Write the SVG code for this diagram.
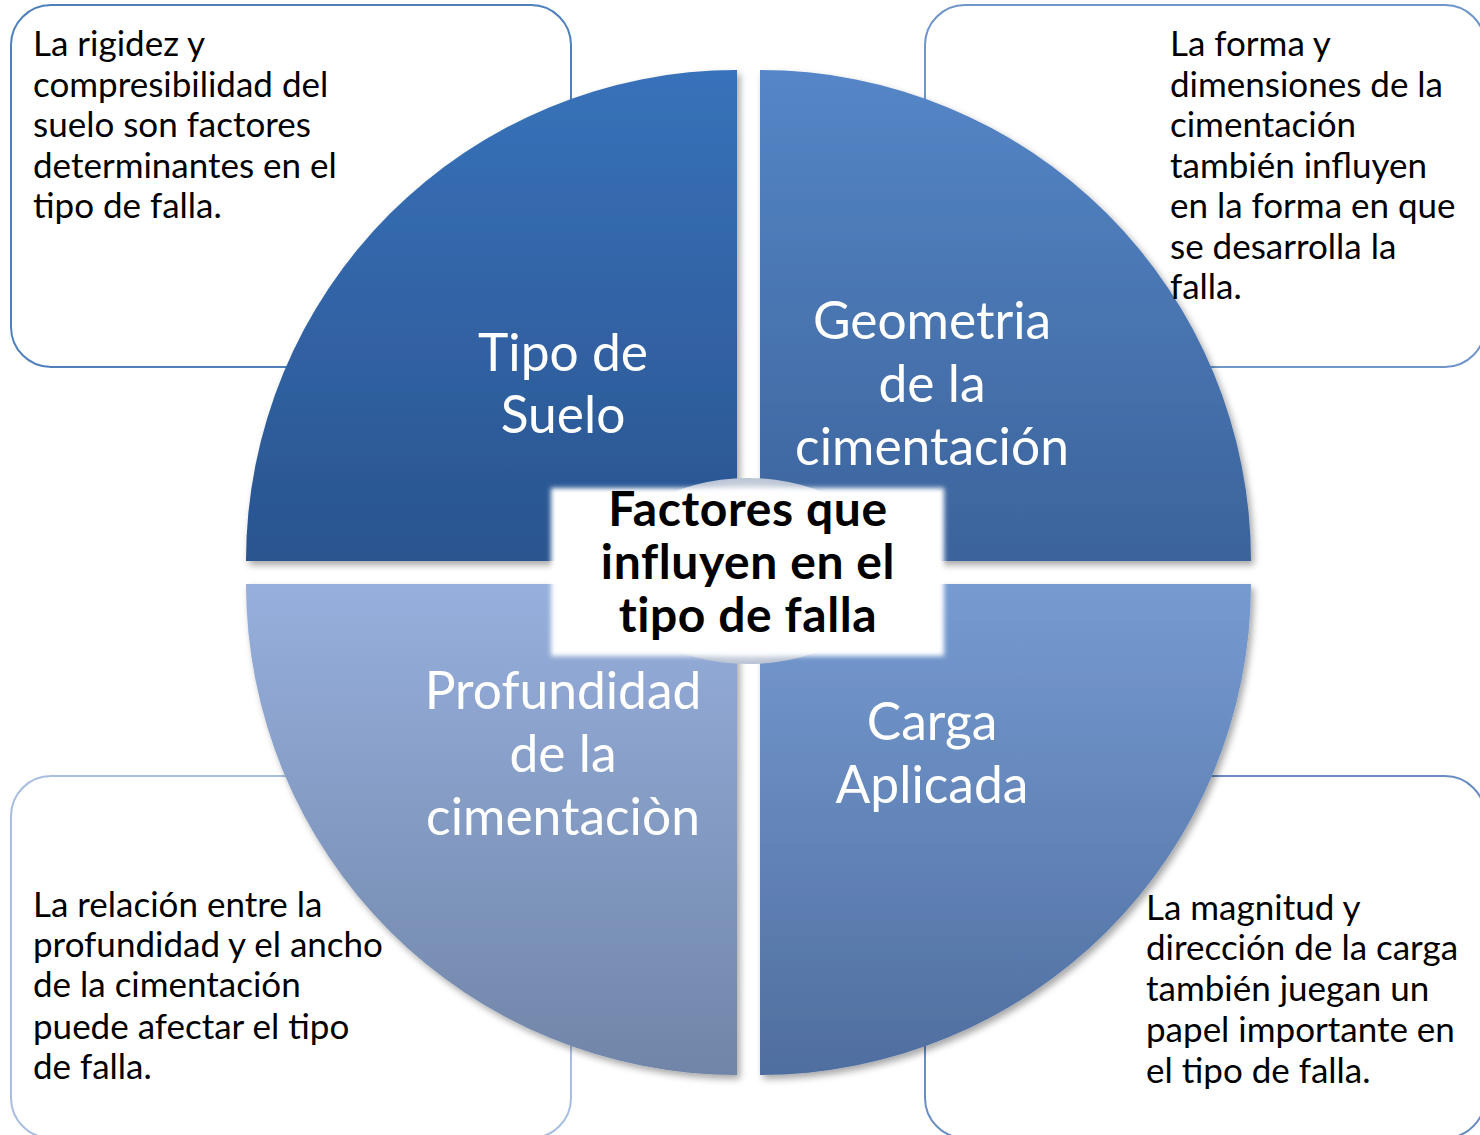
<svg xmlns="http://www.w3.org/2000/svg" width="1480" height="1135" viewBox="0 0 1480 1135">
<defs>
<linearGradient id="gTL" x1="0" y1="0" x2="0" y2="1"><stop offset="0" stop-color="#3872BA"/><stop offset="1" stop-color="#2A548F"/></linearGradient>
<linearGradient id="gTR" x1="0" y1="0" x2="0" y2="1"><stop offset="0" stop-color="#5586C7"/><stop offset="1" stop-color="#3C639B"/></linearGradient>
<linearGradient id="gBL" x1="0" y1="0" x2="0" y2="1"><stop offset="0" stop-color="#96AFDC"/><stop offset="1" stop-color="#7085A8"/></linearGradient>
<linearGradient id="gBR" x1="0" y1="0" x2="0" y2="1"><stop offset="0" stop-color="#769BD1"/><stop offset="1" stop-color="#4F6E9F"/></linearGradient>
<radialGradient id="gC" cx="0.5" cy="0.5" r="0.5"><stop offset="0" stop-color="#FFFFFF"/><stop offset="0.75" stop-color="#F2F4F8"/><stop offset="1" stop-color="#B9C3D3"/></radialGradient>
<filter id="shadow" x="-10%" y="-10%" width="125%" height="125%"><feDropShadow dx="3" dy="4" stdDeviation="3.5" flood-color="#000" flood-opacity="0.35"/></filter>
<filter id="soft" x="-10%" y="-10%" width="120%" height="120%"><feGaussianBlur stdDeviation="2.5"/></filter>
</defs>
<style>
.box{fill:#FFFFFF;stroke-width:2}
.para{font-family:"Lato","Liberation Sans",sans-serif;font-size:35px;fill:#000000}
.lbl{font-family:"Lato","Liberation Sans",sans-serif;font-size:51.5px;fill:#FFFFFF;text-anchor:middle}
.ctr{font-family:"Lato","Liberation Sans",sans-serif;font-size:48px;letter-spacing:0.6px;font-weight:bold;fill:#000000;text-anchor:middle}
</style>
<g id="box-tl"><rect class="box" x="11" y="5" width="560" height="362" rx="40" stroke="#4F80BC"/></g>
<g id="box-tr"><rect class="box" x="925" y="5" width="560" height="362" rx="40" stroke="#6F95CA"/></g>
<g id="box-bl"><rect class="box" x="11" y="776" width="560" height="362" rx="40" stroke="#A8BEE1"/></g>
<g id="box-br"><rect class="box" x="925" y="776" width="560" height="362" rx="40" stroke="#6A8DC3"/></g>
<g id="connectors"></g>
<g id="q-tl"><path d="M737,561 L246,561 A491,491 0 0 1 737,70 Z" fill="url(#gTL)" filter="url(#shadow)"/>
<text class="lbl" x="563" y="371">Tipo de</text><text class="lbl" x="563" y="433">Suelo</text></g>
<g id="q-tr"><path d="M760,561 L760,70 A491,491 0 0 1 1251,561 Z" fill="url(#gTR)" filter="url(#shadow)"/>
<text class="lbl" x="932" y="339">Geometria</text><text class="lbl" x="932" y="402">de la</text><text class="lbl" x="932" y="465">cimentación</text></g>
<g id="q-bl"><path d="M737,584 L737,1075 A491,491 0 0 1 246,584 Z" fill="url(#gBL)" filter="url(#shadow)"/>
<text class="lbl" x="563" y="709">Profundidad</text><text class="lbl" x="563" y="772">de la</text><text class="lbl" x="563" y="835">cimentaciòn</text></g>
<g id="q-br"><path d="M760,584 L1251,584 A491,491 0 0 1 760,1075 Z" fill="url(#gBR)" filter="url(#shadow)"/>
<text class="lbl" x="932" y="740">Carga</text><text class="lbl" x="932" y="803">Aplicada</text></g>
<g id="text-tl"><text class="para" x="33" y="56">La rigidez y</text><text class="para" x="33" y="97">compresibilidad del</text><text class="para" x="33" y="137">suelo son factores</text><text class="para" x="33" y="178">determinantes en el</text><text class="para" x="33" y="218">tipo de falla.</text></g>
<g id="text-tr"><text class="para" x="1170" y="56">La forma y</text><text class="para" x="1170" y="97">dimensiones de la</text><text class="para" x="1170" y="137">cimentación</text><text class="para" x="1170" y="178">también influyen</text><text class="para" x="1170" y="218">en la forma en que</text><text class="para" x="1170" y="259">se desarrolla la</text><text class="para" x="1170" y="299">falla.</text></g>
<g id="text-bl"><text class="para" x="33" y="917">La relación entre la</text><text class="para" x="33" y="957">profundidad y el ancho</text><text class="para" x="33" y="997">de la cimentación</text><text class="para" x="33" y="1039">puede afectar el tipo</text><text class="para" x="33" y="1079">de falla.</text></g>
<g id="text-br"><text class="para" x="1146" y="920">La magnitud y</text><text class="para" x="1146" y="960">dirección de la carga</text><text class="para" x="1146" y="1001">también juegan un</text><text class="para" x="1146" y="1042">papel importante en</text><text class="para" x="1146" y="1083">el tipo de falla.</text></g>
<g id="center"><ellipse cx="748" cy="571" rx="140" ry="93" fill="url(#gC)"/>
<rect x="551" y="488" width="393" height="168" fill="#FFFFFF" filter="url(#soft)"/>
<text class="ctr" x="748" y="526">Factores que</text><text class="ctr" x="748" y="579">influyen en el</text><text class="ctr" x="748" y="632">tipo de falla</text></g>
</svg>
